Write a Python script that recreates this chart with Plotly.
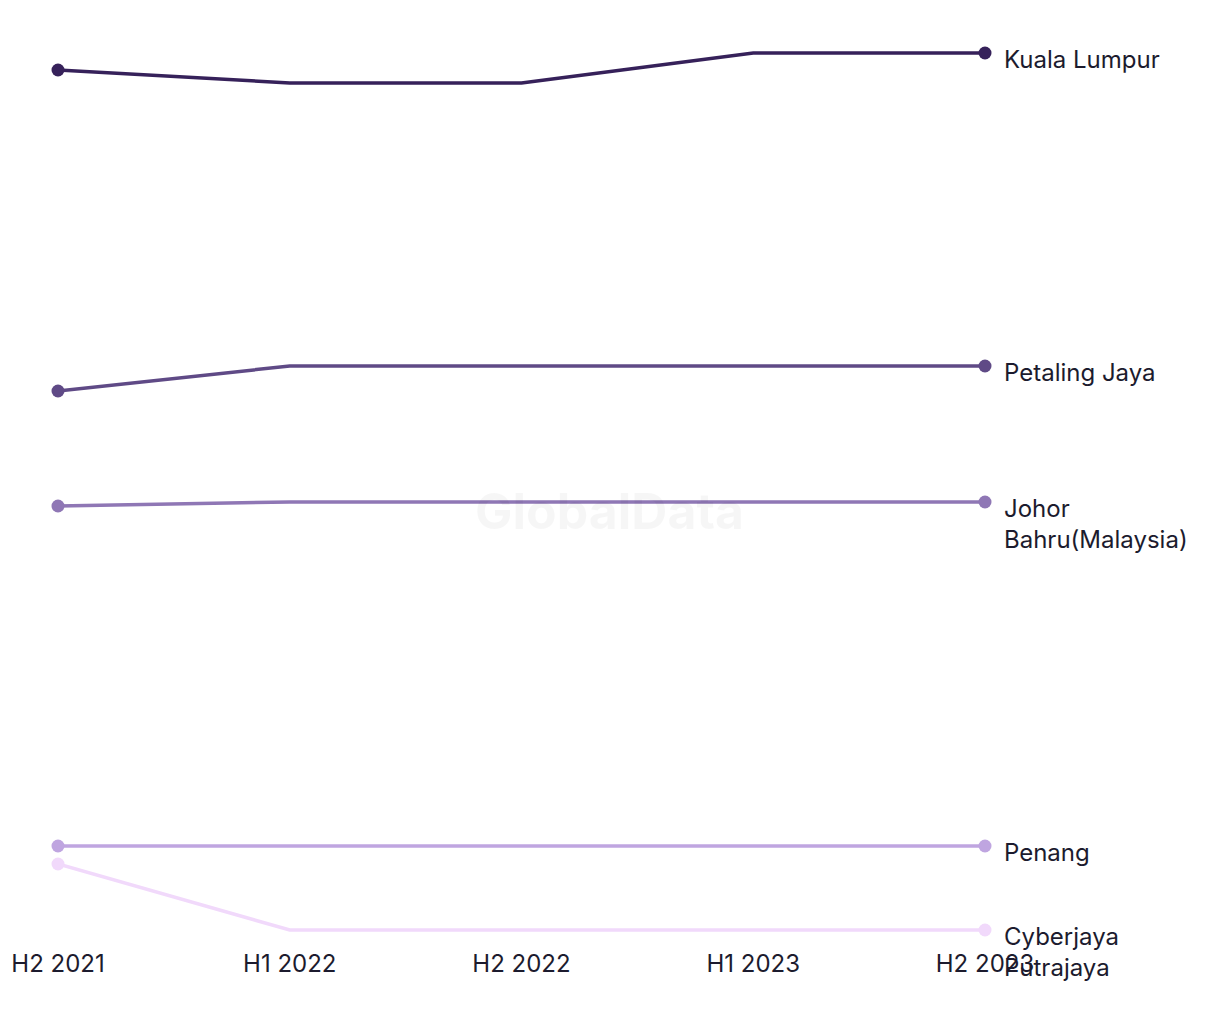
import plotly.graph_objects as go

periods = ["H2 2021", "H1 2022", "H2 2022", "H1 2023", "H2 2023"]

kuala_lumpur = [93.0, 91.7, 91.7, 94.7, 94.7]
petaling_jaya = [60.9, 63.4, 63.4, 63.4, 63.4]
johor_bahru = [49.4, 49.8, 49.8, 49.8, 49.8]
penang = [15.4, 15.4, 15.4, 15.4, 15.4]
cyberjaya_putrajaya = [13.6, 7.0, 7.0, 7.0, 7.0]

series_names = ["Kuala Lumpur", "Petaling Jaya", "Johor<br>Bahru(Malaysia)", "Penang", "Cyberjaya<br>Putrajaya"]
series_values = [kuala_lumpur, petaling_jaya, johor_bahru, penang, cyberjaya_putrajaya]
colors = ["#36215a", "#5f4a86", "#8f77b5", "#bfa5e0", "#f1d9fb"]

FONT = "Inter, Roboto, sans-serif"
TEXT = "#1c1b2e"

n = len(periods)
marker_sizes = [13] + [0] * (n - 2) + [13]

fig = go.Figure()
for name, vals, col in zip(series_names, series_values, colors):
    fig.add_trace(go.Scatter(
        x=list(range(n)), y=vals, mode="lines+markers",
        line=dict(color=col, width=3.5),
        marker=dict(color=col, size=marker_sizes, opacity=1, line=dict(width=0)),
        cliponaxis=False, showlegend=False, hoverinfo="skip",
    ))
    fig.add_annotation(x=n - 1, y=vals[-1], xref="x", yref="y",
                       text=name, showarrow=False, xanchor="left", yanchor="top",
                       align="left", xshift=17, yshift=10,
                       font=dict(family=FONT, size=24, color=TEXT))

fig.add_annotation(x=0.595, y=0.478, xref="paper", yref="paper", text="<b>GlobalData</b>",
                   showarrow=False, font=dict(family=FONT, size=50, color="rgba(0,0,0,0.035)"))

fig.update_layout(
    width=1220, height=1020, paper_bgcolor="white", plot_bgcolor="white",
    margin=dict(l=58, r=235, t=43, b=80),
    xaxis=dict(range=[0, n - 1], tickmode="array", tickvals=list(range(n)),
               ticktext=periods, showgrid=False, zeroline=False, showline=False,
               ticks="outside", ticklen=2, tickcolor="rgba(0,0,0,0)",
               tickfont=dict(family=FONT, size=24, color=TEXT)),
    yaxis=dict(range=[6.0, 95.7], visible=False, showgrid=False, zeroline=False),
)

fig.write_html("out.html")
